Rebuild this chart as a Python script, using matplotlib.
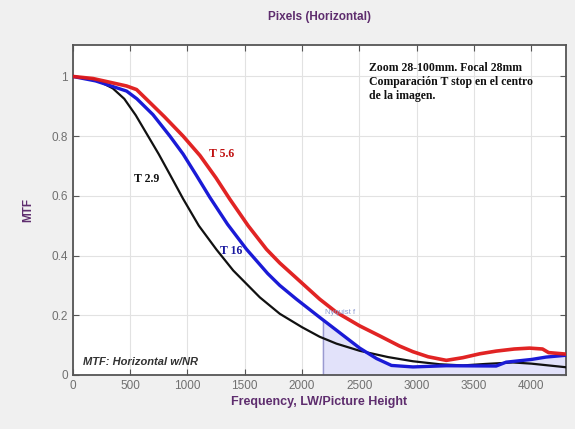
import matplotlib
matplotlib.use("Agg")
import matplotlib.pyplot as plt
import numpy as np

# ---- data ----
freq_red = [0, 177, 470, 557, 640, 800, 963, 1110, 1250, 1370, 1530, 1690, 1806, 1950,
            2154, 2300, 2500, 2677, 2850, 2967, 3100, 3258, 3402, 3550, 3693, 3850,
            3984, 4097, 4150, 4300]
mtf_red = [1.0, 0.993, 0.968, 0.956, 0.925, 0.865, 0.80, 0.735, 0.66, 0.589, 0.50, 0.421,
           0.375, 0.325, 0.254, 0.21, 0.165, 0.131, 0.097, 0.078, 0.061, 0.049, 0.058, 0.071,
           0.080, 0.087, 0.09, 0.087, 0.075, 0.07]

freq_blue = [0, 200, 470, 560, 700, 848, 963, 1080, 1196, 1350, 1516, 1700, 1806, 1951,
             2154, 2300, 2503, 2650, 2780, 2967, 3258, 3693, 3780, 4000, 4128, 4300]
mtf_blue = [1.0, 0.985, 0.951, 0.925, 0.872, 0.80, 0.74, 0.668, 0.595, 0.505, 0.421, 0.34,
            0.30, 0.254, 0.193, 0.15, 0.09, 0.055, 0.032, 0.027, 0.031, 0.030, 0.043,
            0.052, 0.060, 0.066]

freq_black = [0, 200, 350, 450, 550, 650, 750, 850, 963, 1100, 1254, 1400, 1632, 1806,
              2000, 2154, 2300, 2503, 2750, 2967, 3200, 3402, 3600, 3838, 4000, 4300]
mtf_black = [1.0, 0.99, 0.96, 0.925, 0.87, 0.805, 0.74, 0.67, 0.59, 0.50, 0.42, 0.35, 0.26,
             0.205, 0.16, 0.128, 0.105, 0.081, 0.06, 0.046, 0.036, 0.032, 0.037, 0.042,
             0.038, 0.026]

nyquist = 2180
x_ticks = [0, 500, 1000, 1500, 2000, 2500, 3000, 3500, 4000]
y_ticks = [0, 0.2, 0.4, 0.6, 0.8, 1]
y_ticklabels = ["0", "0.2", "0.4", "0.6", "0.8", "1"]

purple = "#5e2d6e"
sans = "Liberation Sans"
serif = "Liberation Serif"

fig = plt.figure(figsize=(5.75, 4.29), dpi=100, facecolor="#f0f0f0")
ax = fig.add_axes([0.1264, 0.1259, 0.8576, 0.769])
ax.set_facecolor("white")

xb = np.linspace(nyquist, freq_blue[-1], 400)
yb = np.interp(xb, freq_blue, mtf_blue)
ax.fill_between(xb, 0, yb, color="#e2e2fa", zorder=1)
ax.plot([nyquist, nyquist], [0, np.interp(nyquist, freq_blue, mtf_blue)],
        color="#9a9ad0", lw=1.0, zorder=2)

ax.plot(freq_black, mtf_black, color="#111111", lw=1.6, zorder=3)
ax.plot(freq_blue, mtf_blue, color="#1a1ad6", lw=2.4, zorder=4)
ax.plot(freq_red, mtf_red, color="#e01818", lw=2.6, zorder=5, alpha=0.95)

ax.text(nyquist + 20, 0.205, "Nyquist f", color="#8a9ad0", fontsize=5.5,
        family=sans, zorder=6)

ax.set_xlim(0, 4300)
ax.set_ylim(0, 1.105)
ax.set_xticks(x_ticks)
ax.set_xticklabels([str(t) for t in x_ticks])
ax.set_yticks(y_ticks)
ax.set_yticklabels(y_ticklabels)
ax.grid(True, color="#e2e2e2", lw=0.8, zorder=0)
ax.set_axisbelow(True)
ax.tick_params(direction="in", top=True, right=True, length=4, color="#555555",
               labelcolor="#707070", labelsize=8.5)
for lab in ax.get_xticklabels() + ax.get_yticklabels():
    lab.set_family(sans)
for s in ax.spines.values():
    s.set_color("#555555")
    s.set_linewidth(1.3)

ax.set_title("Pixels (Horizontal)", color=purple, fontsize=8.5, fontweight="bold",
             family=sans, pad=18)
ax.set_xlabel("Frequency, LW/Picture Height", color=purple, fontsize=9,
              fontweight="bold", family=sans, labelpad=3)
ax.set_ylabel("MTF", color=purple, fontsize=8.5, fontweight="bold", family=sans,
              labelpad=12)

ax.text(0.60, 0.95, "Zoom 28-100mm. Focal 28mm\nComparación T stop en el centro\nde la imagen.",
        transform=ax.transAxes, ha="left", va="top", fontsize=8.5, fontweight="bold",
        family=serif, color="#111111", linespacing=1.25)
ax.text(0.02, 0.03, "MTF: Horizontal w/NR", transform=ax.transAxes, fontsize=8,
        fontweight="bold", style="italic", family=sans, color="#333333")

ax.text(1300, 0.74, "T 5.6", color="#c01010", fontsize=8.5, fontweight="bold",
        family=serif, ha="center", va="center")
ax.text(644, 0.655, "T 2.9", color="#111111", fontsize=8.5, fontweight="bold",
        family=serif, ha="center", va="center")
ax.text(1385, 0.416, "T 16", color="#1a1aa0", fontsize=8.5, fontweight="bold",
        family=serif, ha="center", va="center")

fig.savefig("out.png", dpi=100, facecolor=fig.get_facecolor())
